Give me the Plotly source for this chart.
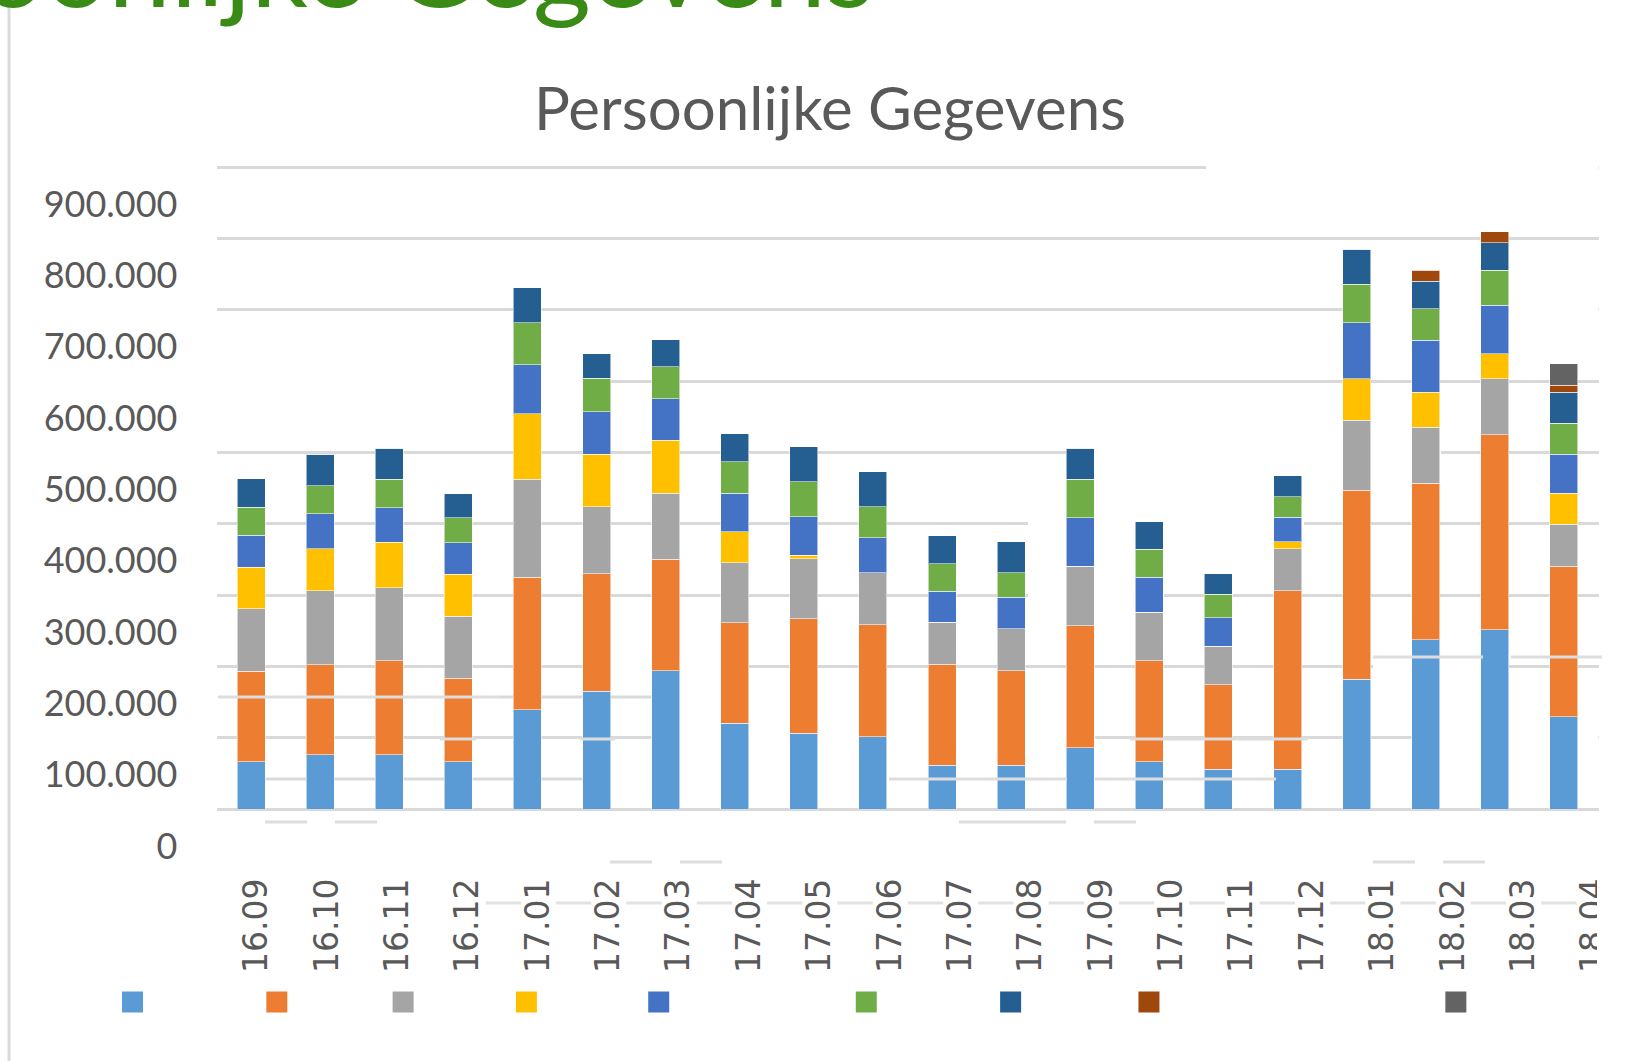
import plotly.graph_objects as go

# ---------------- data (values in thousands) ----------------
months = ["16.09", "16.10", "16.11", "16.12", "17.01", "17.02", "17.03", "17.04",
          "17.05", "17.06", "17.07", "17.08", "17.09", "17.10", "17.11", "17.12",
          "18.01", "18.02", "18.03", "18.04"]

s1 = [66, 76, 76, 66, 139, 165, 194, 120, 106, 101, 61, 61, 86, 66, 56, 56, 182, 237, 251, 129]
s2 = [127, 126, 132, 117, 186, 165, 156, 141, 161, 157, 142, 133, 171, 142, 118, 250, 265, 220, 274, 211]
s3 = [88, 104, 102, 87, 137, 94, 93, 84, 84, 73, 59, 59, 83, 68, 54, 59, 98, 78, 78, 59]
s4 = [58, 59, 64, 59, 92, 73, 74, 44, 5, 0, 0, 0, 0, 0, 0, 10, 58, 49, 35, 44]
s5 = [45, 49, 48, 44, 69, 60, 58, 54, 54, 49, 43, 44, 68, 49, 40, 34, 79, 73, 68, 54]
s6 = [39, 39, 40, 35, 59, 47, 45, 44, 49, 44, 39, 34, 54, 39, 33, 29, 54, 44, 49, 44]
s7 = [40, 44, 44, 34, 49, 34, 38, 39, 49, 49, 39, 44, 44, 39, 29, 29, 49, 39, 39, 43]
s8 = [0] * 17 + [15, 15, 10]
s9 = [0] * 19 + [30]

series = [s1, s2, s3, s4, s5, s6, s7, s8, s9]
colors = ["#5B9BD5", "#ED7D31", "#A5A5A5", "#FFC000", "#4472C4",
          "#70AD47", "#255E91", "#9E480E", "#636363"]

y_ticks = list(range(0, 900001, 100000))

# ---------------- geometry (page pixels) ----------------
W, H = 1630, 1061
PLOT_L, PLOT_R = 216.5, 1598.5
Y0_PX = 809.0
PX_PER_100K = 71.33
Y_MAX = 903000
PLOT_T = Y0_PX - Y_MAX / 100000 * PX_PER_100K
N = len(months)
STEP = (PLOT_R - PLOT_L) / N
LBL0, LBL_STEP = 256.5, 70.37


def fx(px):
    return px / W


def fy(py):
    return 1 - py / H


def cx(px):
    return (px - PLOT_L) / STEP - 0.5


def vy(py):
    return (Y0_PX - py) / PX_PER_100K * 100000


fig = go.Figure()
for i, (vals, col) in enumerate(zip(series, colors)):
    fig.add_trace(go.Bar(
        x=months, y=[v * 1000 for v in vals], name="reeks %d" % (i + 1),
        marker=dict(color=col, line=dict(color="rgba(255,255,255,0.55)", width=1)),
        showlegend=False, xaxis="x", yaxis="y"))

# legend entries (names are blank in the original)
legend_pad = [33, 27, 26, 29, 54, 33, 31, 87, 1]
for col, k in zip(colors, legend_pad):
    fig.add_trace(go.Scatter(
        x=[None], y=[None], mode="markers", name="\u00a0" * k,
        marker=dict(symbol="square", size=16, color=col, line=dict(color=col, width=5)),
        showlegend=True, hoverinfo="skip", xaxis="x2", yaxis="y"))

shapes = []
shapes.append(dict(type="line", xref="paper", yref="paper", x0=fx(9), x1=fx(9), y0=0, y1=1,
                   line=dict(color="#D9D9D9", width=3), layer="above"))

# gaps in the gridlines (masked under the bars)
gaps = [(900000, 1206, 1610), (700000, 1345, 1610), (600000, 200, 611),
        (500000, 1067, 1441), (400000, 1028, 1304), (300000, 1028, 1164),
        (200000, 611, 749), (200000, 1373, 1484), (100000, 652, 1095), (100000, 1415, 1610)]
for yv, a, b in gaps:
    shapes.append(dict(type="line", xref="x", yref="y", x0=cx(a), x1=cx(b), y0=yv, y1=yv,
                       line=dict(color="white", width=6), layer="between"))

behind = [(779, 265, 586), (697, 500, 680)]
for py, a, b in behind:
    shapes.append(dict(type="line", xref="x", yref="y", x0=cx(a), x1=cx(b), y0=vy(py), y1=vy(py),
                       line=dict(color="#D9D9D9", width=3), layer="between"))

over = [(697, 218, 500), (739, 440, 476), (739, 580, 615), (739, 1130, 1308),
        (657, 1373, 1483), (657, 1511, 1602), (779, 889, 1067), (779, 1095, 1276),
        (822, 265, 307), (822, 335, 377), (822, 959, 1066), (822, 1094, 1136),
        (862, 610, 652), (862, 680, 722), (862, 1373, 1415), (862, 1443, 1485)]
for py, a, b in over:
    shapes.append(dict(type="line", xref="paper", yref="paper", x0=fx(a), x1=fx(b),
                       y0=fy(py), y1=fy(py), line=dict(color="#DDDDDD", width=3), layer="above"))

for i in range(3, N):
    a = LBL0 - 15 + LBL_STEP * i + 33
    b = min(LBL0 - 15 + LBL_STEP * (i + 1) - 2, 1601)
    shapes.append(dict(type="line", xref="paper", yref="paper", x0=fx(a), x1=fx(b),
                       y0=fy(903), y1=fy(903), line=dict(color="#E2E2E2", width=3), layer="below"))

shapes.append(dict(type="rect", xref="paper", yref="paper", x0=fx(1597), x1=1, y0=fy(990), y1=fy(860),
                   fillcolor="white", line=dict(width=0), layer="above"))

r0 = -(LBL0 - PLOT_L) / LBL_STEP
r1 = r0 + (PLOT_R - PLOT_L) / LBL_STEP

fig.update_layout(
    width=W, height=H,
    margin=dict(l=0, r=0, t=0, b=0, autoexpand=False),
    paper_bgcolor="white", plot_bgcolor="white",
    barmode="stack", bargap=0.595,
    separators=",.",
    title=dict(text="Persoonlijke Gegevens", x=fx(830), xanchor="center", xref="paper",
               y=fy(109), yanchor="middle", yref="container",
               font=dict(family="Lato", size=60, color="#595959")),
    xaxis=dict(type="category", domain=[fx(PLOT_L), fx(PLOT_R)], range=[-0.5, N - 0.5],
               showticklabels=False, showgrid=False, zeroline=False, showline=False,
               categoryorder="array", categoryarray=months),
    xaxis2=dict(overlaying="x", anchor="y", side="bottom", range=[r0, r1],
                tickmode="array", tickvals=list(range(N)), ticktext=months,
                tickangle=-90, ticks="", ticklabelstandoff=62,
                tickfont=dict(family="DejaVu Sans", size=33, color="#595959"),
                showgrid=False, zeroline=False, showline=False),
    yaxis=dict(domain=[fy(Y0_PX), fy(PLOT_T)], range=[0, Y_MAX],
               tickmode="array", tickvals=y_ticks, tickformat=",d",
               showgrid=True, gridcolor="#D9D9D9", gridwidth=3,
               zeroline=True, zerolinecolor="#D9D9D9", zerolinewidth=3,
               showline=False, ticks="", ticklabelshift=37, ticklabelstandoff=38,
               tickfont=dict(family="Lato", size=36, color="#595959")),
    legend=dict(orientation="h", x=fx(112.5), xanchor="left", y=fy(1002), yanchor="middle",
                font=dict(family="DejaVu Sans Mono", size=5, color="rgba(0,0,0,0)"),
                itemsizing="trace", bgcolor="rgba(0,0,0,0)", traceorder="normal"),
    annotations=[dict(text="Persoonlijke Gegevens", xref="paper", yref="paper",
                      x=fx(876), xanchor="right", y=fy(33), yanchor="bottom",
                      showarrow=False, font=dict(family="Lato", size=112, color="#3A8A16"))],
    shapes=shapes,
    showlegend=True,
)

fig.write_html("out.html", config={"displayModeBar": False},
               post_script="document.body.style.margin='0';document.body.style.padding='0';")
